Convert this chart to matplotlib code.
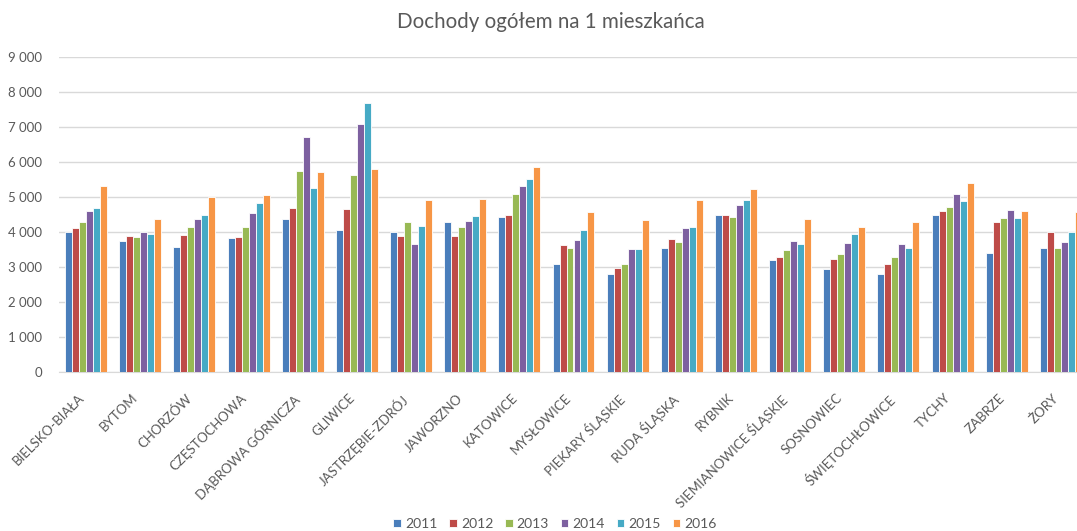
import numpy as np
import matplotlib
matplotlib.use("Agg")
import matplotlib.pyplot as plt
from matplotlib.ticker import FuncFormatter

plt.rcParams['font.family'] = ['Lato', 'DejaVu Sans']

miasta = ["BIELSKO-BIAŁA", "BYTOM", "CHORZÓW", "CZĘSTOCHOWA", "DĄBROWA GÓRNICZA",
          "GLIWICE", "JASTRZĘBIE-ZDRÓJ", "JAWORZNO", "KATOWICE", "MYSŁOWICE",
          "PIEKARY ŚLĄSKIE", "RUDA ŚLĄSKA", "RYBNIK", "SIEMIANOWICE ŚLĄSKIE",
          "SOSNOWIEC", "ŚWIĘTOCHŁOWICE", "TYCHY", "ZABRZE", "ŻORY"]
lata = ["2011", "2012", "2013", "2014", "2015", "2016"]

d2011 = [4010, 3755, 3565, 3840, 4375, 4060, 3990, 4280, 4430, 3080, 2795, 3535, 4475, 3205, 2935, 2795, 4475, 3395, 3535]
d2012 = [4125, 3900, 3915, 3870, 4690, 4660, 3900, 3900, 4495, 3630, 2985, 3800, 4475, 3280, 3230, 3090, 4590, 4280, 3990]
d2013 = [4280, 3870, 4155, 4155, 5730, 5620, 4280, 4135, 5095, 3535, 3080, 3705, 4430, 3490, 3375, 3280, 4715, 4400, 3535]
d2014 = [4610, 4010, 4375, 4545, 6720, 7070, 3660, 4325, 5315, 3775, 3515, 4105, 4760, 3735, 3690, 3660, 5095, 4620, 3705]
d2015 = [4680, 3935, 4500, 4830, 5265, 7670, 4165, 4450, 5505, 4070, 3515, 4155, 4925, 3660, 3945, 3535, 4875, 4400, 4010]
d2016 = [5310, 4375, 5000, 5050, 5715, 5790, 4905, 4950, 5855, 4570, 4355, 4925, 5240, 4375, 4135, 4285, 5410, 4590, 4570]

kolory = ["#4a7ebb", "#be4b48", "#98b954", "#7d60a0", "#46aac5", "#f79646"]

fig = plt.figure(figsize=(10.77, 5.31), dpi=100)
# obszar wykresu wychodzi poza prawą krawędź obrazka
ax = fig.add_axes([59/1077, 158.7/531, 1029/1077, 315.6/531])

x = np.arange(len(miasta))
szer = 0.129
serie = [d2011, d2012, d2013, d2014, d2015, d2016]
for i, (rok, wart) in enumerate(zip(lata, serie)):
    ax.bar(x + (i - 2.5) * szer, wart, width=szer, color=kolory[i],
           edgecolor="white", linewidth=0.6, label=rok, zorder=3)

ax.set_xlim(-0.5, len(miasta) - 0.5)
ax.set_ylim(0, 9000)
ax.set_yticks(np.arange(0, 9001, 1000))
ax.yaxis.set_major_formatter(FuncFormatter(lambda v, p: f"{int(v):,}".replace(",", " ")))
ax.grid(axis="y", color="#d9d9d9", linewidth=1, zorder=0)
for s in ["top", "right", "left"]:
    ax.spines[s].set_visible(False)
ax.spines["bottom"].set_color("#d9d9d9")
ax.tick_params(axis="both", length=0, colors="#595959")
ax.tick_params(axis="y", pad=12, labelsize=9.5)

ax.set_xticks(x)
ax.set_xticklabels(miasta, rotation=45, ha="right", fontsize=9.5)
ax.tick_params(axis="x", pad=14)

fig.text(551/1077, 1 - 22/531, "Dochody ogółem na 1 mieszkańca", ha="center", va="center",
         fontsize=14.8, color="#595959")

fig.legend(loc="center", bbox_to_anchor=(555/1077, 1 - 524/531), ncol=6, frameon=False,
           fontsize=10, handlelength=0.55, handleheight=0.55, handletextpad=0.3,
           columnspacing=0.85, labelcolor="#595959")

fig.savefig("out.png", dpi=100)
